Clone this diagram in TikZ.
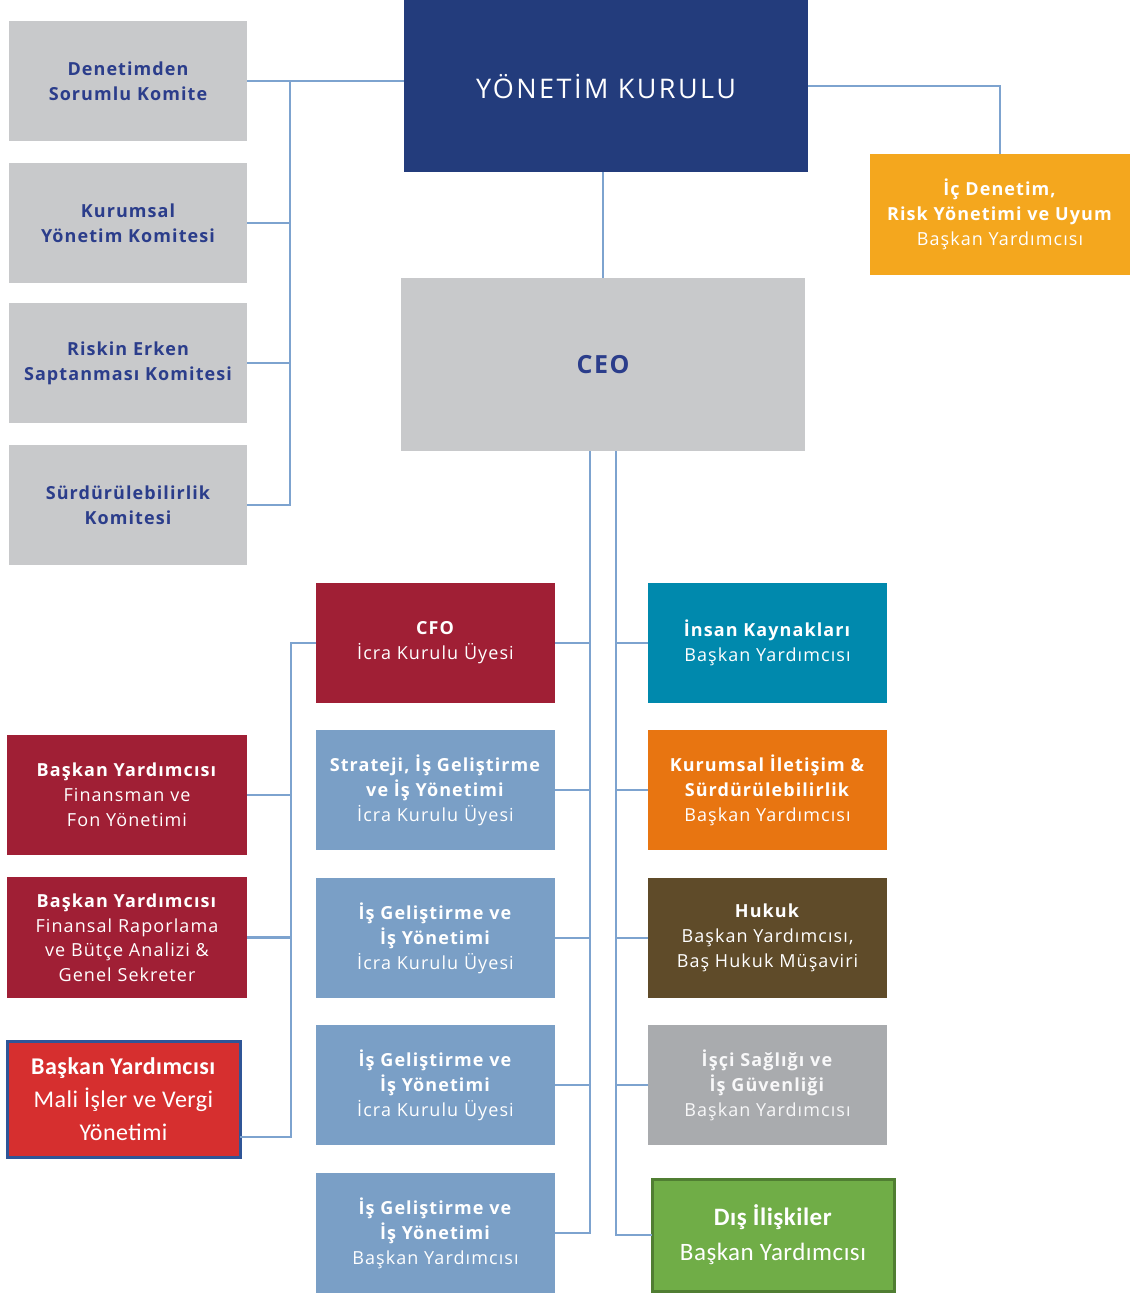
\documentclass[tikz,border=0pt]{standalone}
\usepackage{fontspec}
\setmainfont{Open Sans}[LetterSpace=6]
\newfontfamily\ykfont{Open Sans}[LetterSpace=9]
\newfontfamily\calfont{Carlito}[LetterSpace=2]
\usepackage{xcolor}
\usepackage{tikz}
\usetikzlibrary{positioning,calc}
\definecolor{ykblue}{HTML}{233C7C}
\definecolor{komgray}{HTML}{C8C9CB}
\definecolor{komtext}{HTML}{2B3D8B}
\definecolor{icdorange}{HTML}{F4A71E}
\definecolor{cfored}{HTML}{A01F35}
\definecolor{steel}{HTML}{7A9FC6}
\definecolor{teal}{HTML}{0089AD}
\definecolor{kilorange}{HTML}{E87511}
\definecolor{brown}{HTML}{5F4B29}
\definecolor{isgray}{HTML}{A9ABAE}
\definecolor{malired}{HTML}{D62F2F}
\definecolor{maliedge}{HTML}{2F5597}
\definecolor{disgreen}{HTML}{70AD47}
\definecolor{disedge}{HTML}{507E32}
\definecolor{linkblue}{HTML}{7DA3CF}
\newcommand{\bl}[1]{\textbf{#1}}
\tikzset{
  org box/.style={rectangle, align=center, inner sep=0pt, outer sep=0pt, minimum width=239, minimum height=120, text=white, font=\fontsize{18}{25}\selectfont},
  org komite/.style={org box, minimum width=238, fill=komgray, text=komtext, font=\bfseries\fontsize{18}{25}\selectfont},
  org line/.style={draw=linkblue, line width=2.5pt}
}
\begin{document}
\begin{tikzpicture}[x=1pt, y=-1pt]
    \useasboundingbox (0,0) rectangle (1130,1294);
    % Top of the chart
    \node [org box, anchor=north west, minimum width=404, minimum height=172, fill=ykblue, font=\ykfont\fontsize{27}{32}\selectfont] (yk) at (404,0) {YÖNETİM KURULU};
    \node [org box, anchor=north west, minimum width=260, minimum height=121, fill=icdorange] (icd) at (870,154) {\bl{İç Denetim,}\\\bl{Risk Yönetimi ve Uyum}\\Başkan Yardımcısı};
    \node [org box, anchor=north west, minimum width=404, minimum height=173, fill=komgray, text=komtext, font=\bfseries\fontsize{25}{30}\selectfont] (ceo) at (401,278) {CEO};
    
    % Committees (left)
    \node [org komite, anchor=north west] (sorumlu) at (9,21) {Denetimden\\Sorumlu Komite};
    \node [org komite, below=22pt of sorumlu] (kurumsal) {Kurumsal\\Yönetim Komitesi};
    \node [org komite, below=20pt of kurumsal] (risk) {Riskin Erken\\Saptanması Komitesi};
    \node [org komite, below=22pt of risk] (surd) {Sürdürülebilirlik\\Komitesi};
    
    % Middle column
    \node [org box, anchor=north west, fill=cfored] (cfo) at (316,583) {\bl{CFO}\\İcra Kurulu Üyesi};
    \node [org box, below=27pt of cfo, fill=steel] (strat) {\bl{Strateji, İş Geliştirme}\\\bl{ve İş Yönetimi}\\İcra Kurulu Üyesi};
    \node [org box, below=28pt of strat, fill=steel] (isg1) {\bl{İş Geliştirme ve}\\\bl{İş Yönetimi}\\İcra Kurulu Üyesi};
    \node [org box, below=27pt of isg1, fill=steel] (isg2) {\bl{İş Geliştirme ve}\\\bl{İş Yönetimi}\\İcra Kurulu Üyesi};
    \node [org box, below=28pt of isg2, fill=steel] (isg3) {\bl{İş Geliştirme ve}\\\bl{İş Yönetimi}\\Başkan Yardımcısı};
    
    % Right column
    \node [org box, anchor=north west, fill=teal] (ik) at (648,583) {\bl{İnsan Kaynakları}\\Başkan Yardımcısı};
    \node [org box, below=27pt of ik, fill=kilorange] (kil) {\bl{Kurumsal İletişim \&}\\\bl{Sürdürülebilirlik}\\Başkan Yardımcısı};
    \node [org box, below=28pt of kil, fill=brown] (hukuk) {\bl{Hukuk}\\Başkan Yardımcısı,\\Baş Hukuk Müşaviri};
    \node [org box, below=27pt of hukuk, fill=isgray, text=white!92!isgray] (isgu) {\bl{İşçi Sağlığı ve}\\\bl{İş Güvenliği}\\Başkan Yardımcısı};
    \node [org box, anchor=north west, minimum width=242, minimum height=112, fill=disgreen, draw=disedge, line width=3pt, font=\calfont\fontsize{25}{35}\selectfont] (dis) at (652,1179) {\bl{Dış İlişkiler}\\Başkan Yardımcısı};
    
    % Finance (left)
    \node [org box, anchor=north west, minimum width=240, fill=cfored] (finans) at (7,735) {\bl{Başkan Yardımcısı}\\Finansman ve\\Fon Yönetimi};
    \node [org box, anchor=north west, minimum width=240, minimum height=121, fill=cfored, font=\fontsize{18}{24.5}\selectfont] (rapor) at (7,877) {\bl{Başkan Yardımcısı}\\Finansal Raporlama\\ve Bütçe Analizi \&\\Genel Sekreter};
    \node [org box, anchor=north west, minimum width=233, minimum height=116, fill=malired, draw=maliedge, line width=3pt, font=\calfont\fontsize{24}{33}\selectfont] (mali) at (7,1041) {\bl{Başkan Yardımcısı}\\Mali İşler ve Vergi\\Yönetimi};
    
    % Bus coordinates
    \coordinate (kx) at (290,0);
    \coordinate (fx) at (291,0);
    \coordinate (sl) at (590,0);
    \coordinate (sr) at (616,0);
    
    % Board links
    \draw [org line] (sorumlu.east) -- (yk.west |- sorumlu.east);
    \draw [org line] (sorumlu.east -| kx) |- (surd.east);
    \foreach \n in {kurumsal, risk}
        \draw [org line] (\n.east) -- (\n.east -| kx);
    \draw [org line] (yk.east) -| (icd.north);
    \draw [org line] (yk.south -| ceo.north) -- (ceo.north);
    
    % CEO links
    \draw [org line] (ceo.south -| sl) |- (isg3.east);
    \foreach \n in {cfo, strat, isg1, isg2}
        \draw [org line] (\n.east) -- (\n.east -| sl);
    \draw [org line] (ceo.south -| sr) |- (dis.west);
    \foreach \n in {ik, kil, hukuk, isgu}
        \draw [org line] (\n.west) -- (\n.west -| sr);
    
    % CFO links
    \draw [org line] (cfo.west) -- (cfo.west -| fx) |- ([yshift=-38pt]mali.east);
    \foreach \n in {finans, rapor}
        \draw [org line] (\n.east) -- (\n.east -| fx);
\end{tikzpicture}
\end{document}
